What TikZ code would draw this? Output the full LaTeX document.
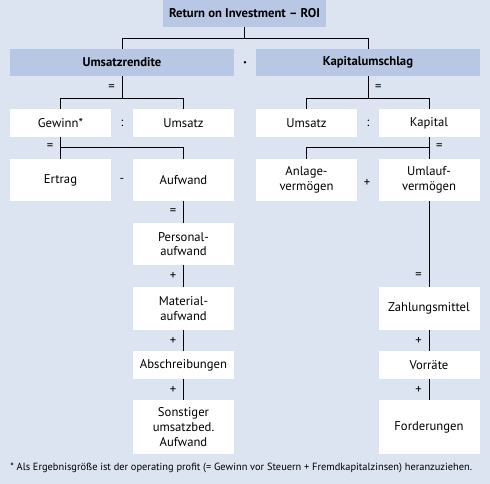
\documentclass[tikz,border=0pt]{standalone}
\usepackage{fontspec}
\setmainfont{PT Sans}
\usepackage{xcolor}
\usetikzlibrary{positioning,calc}
\definecolor{bgblue}{HTML}{DCE3F1}
\definecolor{headblue}{HTML}{B8C8E4}
\newlength{\unit}
\setlength{\unit}{0.75pt}
\tikzstyle{box}     = [rectangle, inner sep=0pt, align=center, font=\fontsize{9.5}{11}\selectfont]
\tikzstyle{head}    = [box, fill=headblue, minimum height=27\unit, font=\fontsize{9.5}{11}\selectfont\bfseries]
\tikzstyle{term}    = [box, fill=white, minimum width=101\unit]
\tikzstyle{op}      = [font=\fontsize{9.5}{11}\selectfont, inner sep=1pt]
\tikzstyle{conn}    = [draw=black, line width=0.7pt]

\begin{document}
\begin{tikzpicture}[x=0.75pt, y=-0.75pt]
      %Background
      \fill[bgblue] (0,0) rectangle (490,484);
      \useasboundingbox (0,0) rectangle (490,484);

      %Top level
      \draw (244.5,13.5) node[head, minimum width=163\unit] (roi) {Return on Investment -- ROI};
      \draw (122,62.5) node[head, minimum width=224\unit] (umr) {Umsatzrendite};
      \draw (368,62.5) node[head, minimum width=224\unit] (kap) {Kapitalumschlag};
      \node[op, font=\fontsize{16}{16}\selectfont] (mul) at (245,63) {$\cdot$};

      %Umsatzrendite side
      \draw (60.5,123) node[term, minimum height=28\unit] (gew) {Gewinn*};
      \draw (183.5,123) node[term, minimum height=28\unit] (umsa) {Umsatz};
      \draw (60.5,180) node[term, minimum height=42\unit] (ert) {Ertrag};
      \draw (183.5,180) node[term, minimum height=42\unit] (aufw) {Aufwand};
      \draw (183.5,244) node[term, minimum height=42\unit] (pers) {Personal-\\aufwand};
      \draw (183.5,308.5) node[term, minimum height=43\unit] (mat) {Material-\\aufwand};
      \draw (183.5,365) node[term, minimum height=28\unit] (abs) {Abschreibungen};
      \draw (183.5,427) node[term, minimum height=54\unit] (sonst) {Sonstiger\\umsatzbed.\\Aufwand};

      %Kapitalumschlag side
      \draw (306.5,123) node[term, minimum height=28\unit] (umsb) {Umsatz};
      \draw (429,123) node[term, minimum height=28\unit] (kapi) {Kapital};
      \draw (306.5,180) node[term, minimum height=42\unit] (anl) {Anlage-\\vermögen};
      \draw (429,180) node[term, minimum height=42\unit] (uml) {Umlauf-\\vermögen};
      \draw (429,308.5) node[term, minimum height=43\unit] (zahl) {Zahlungsmittel};
      \draw (429,365) node[term, minimum height=28\unit] (vor) {Vorräte};
      \draw (429,427) node[term, minimum height=54\unit] (ford) {Forderungen};

      %Connectors
      \draw[conn] (roi.south) -- ++(0,11) coordinate (t1);
      \draw[conn] (umr.north) |- (t1) -| (kap.north);
      \draw[conn] (umr.south) -- node[op, left=4pt] {=} ++(0,22) coordinate (t2);
      \draw[conn] (gew.north) |- (t2) -| (umsa.north);
      \draw[conn] (kap.south) -- node[op, right=4pt] {=} ++(0,22) coordinate (t3);
      \draw[conn] (umsb.north) |- (t3) -| (kapi.north);
      \draw[conn] (gew.south) -- node[op, left=4pt, pos=0.45] {=} (ert.north);
      \draw[conn] (gew.south) ++(0,10) coordinate (t4) -| (aufw.north);
      \draw[conn] (kapi.south) -- node[op, right=4pt, pos=0.45] {=} (uml.north);
      \draw[conn] (kapi.south) ++(0,10) coordinate (t5) -| (anl.north);
      \draw[conn] (aufw) -- node[op, left=4pt] {=} (pers);
      \draw[conn] (pers) -- node[op, left=4pt] {+} (mat);
      \draw[conn] (mat) -- node[op, left=4pt] {+} (abs);
      \draw[conn] (abs) -- node[op, left=4pt] {+} (sonst);
      \draw[conn] (uml) -- node[op, left=4pt, pos=0.87] {=} (zahl);
      \draw[conn] (zahl) -- node[op, left=4pt] {+} (vor);
      \draw[conn] (vor) -- node[op, left=4pt] {+} (ford);

      %Operators between boxes
      \node[op] (div1) at (122,123) {:};
      \node[op] (div2) at (368,123) {:};
      \node[op] (minus) at (122,180) {-};
      \node[op] (plus) at (367,183) {+};

      %Footnote
      \node[anchor=west, inner sep=0pt, font=\fontsize{7.8}{9}\selectfont] (note) at (10,468)
        {* Als Ergebnisgröße ist der operating profit (= Gewinn vor Steuern + Fremdkapitalzinsen) heranzuziehen.};
\end{tikzpicture}
\end{document}
